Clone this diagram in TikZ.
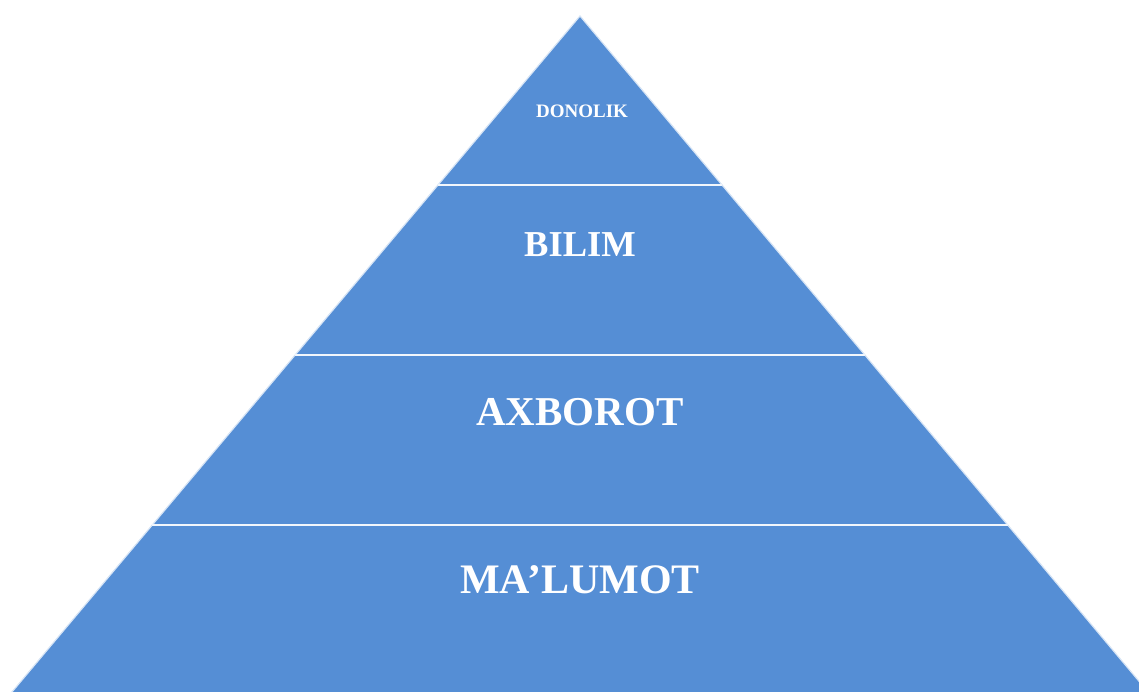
\documentclass[tikz,border=0pt]{standalone}
\usepackage{fontspec}
\setmainfont{Liberation Serif}
\definecolor{tierblue}{RGB}{85,142,213}
\definecolor{tieredge}{RGB}{214,228,245}
\tikzset{
  tier/.style={fill=tierblue, draw=tieredge, line width=1.2pt, line join=miter},
  sepline/.style={draw=white!92!tierblue, line width=2pt},
  tierlabel/.style={text=white, font=\bfseries, anchor=base, inner sep=0pt}
}
\begin{document}
\begin{tikzpicture}[x=1pt,y=-1pt]
\useasboundingbox (0,0) rectangle (1139,691);
\clip (0,0) rectangle (1139,691);
% pyramid outline
\coordinate (apex) at (580,16);
\coordinate (bl) at (-4,711);
\coordinate (br) at (1164,711);
\path[tier] (apex) -- (bl) -- (br) -- cycle;
% tier separators
\coordinate (s1l) at (438,185); \coordinate (s1r) at (722,185);
\coordinate (s2l) at (295,355); \coordinate (s2r) at (865,355);
\coordinate (s3l) at (152,525); \coordinate (s3r) at (1008,525);
\draw[sepline] (s1l) -- (s1r);
\draw[sepline] (s2l) -- (s2r);
\draw[sepline] (s3l) -- (s3r);
% labels
\node[tierlabel, font=\bfseries\fontsize{19}{19}\selectfont] (donolik) at (582,117) {DONOLIK};
\node[tierlabel, font=\bfseries\fontsize{36.5}{36.5}\selectfont] (bilim) at (580,256) {BILIM};
\node[tierlabel, font=\bfseries\fontsize{41}{41}\selectfont] (axborot) at (580,425) {AXBOROT};
\node[tierlabel, font=\bfseries\fontsize{42}{42}\selectfont] (malumot) at (580,593) {MA’LUMOT};
\end{tikzpicture}
\end{document}
